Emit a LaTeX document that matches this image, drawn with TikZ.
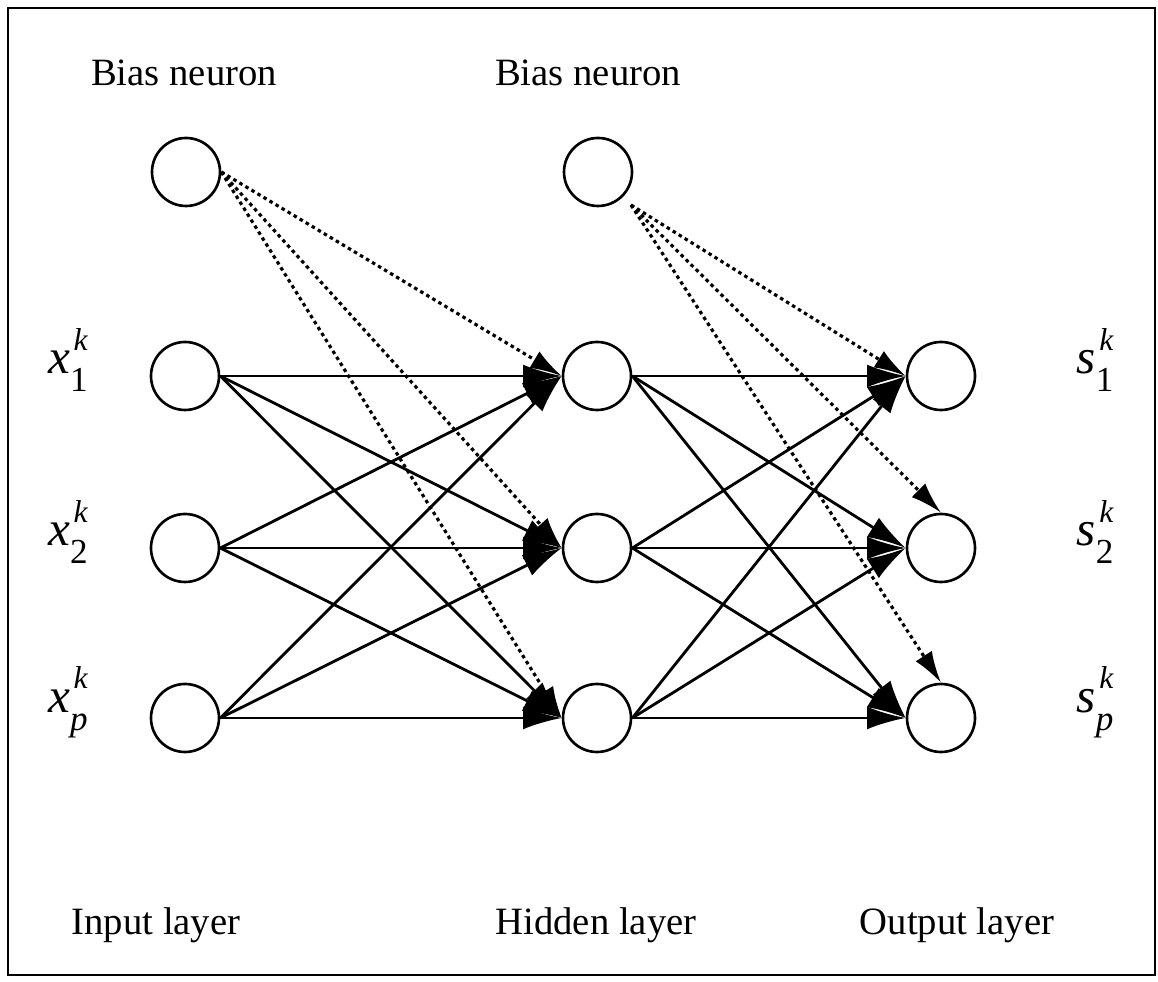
\documentclass[tikz,border=0pt]{standalone}
\usepackage{fontspec}
\setmainfont{Liberation Serif}
\usetikzlibrary{arrows.meta}

\newcommand{\klab}[2]{\textit{#1}\rlap{\hspace{1pt}\raisebox{1.05ex}{\fontsize{9}{9}\selectfont\textit{k}}}\raisebox{-0.8ex}{\fontsize{10}{10}\selectfont #2}}

\tikzset{
	neuron/.style={circle, draw, line width=0.75pt, minimum size=0.68cm, inner sep=0pt},
	txt/.style={font=\fontsize{11}{12}\selectfont, inner sep=0pt},
	var/.style={font=\fontsize{14}{16}\selectfont, inner sep=0pt},
	wgt/.style={line width=0.8pt, -{Latex[length=11pt,width=6.5pt]}},
	bwgt/.style={line width=0.9pt, dash pattern=on 1pt off 1pt, -{Latex[length=9pt,width=5.5pt]}}
}

\begin{document}
\begin{tikzpicture}
	\useasboundingbox (0,0) rectangle (11.58,9.82);
	\draw[line width=0.8pt] (0.08,0.07) rectangle (11.55,9.74);
	
	% bias neurons
	\node[neuron] (bi) at (1.86,8.10) {};
	\node[neuron] (bh) at (5.98,8.10) {};
	\node[txt] (tbi) at (1.84,9.09) {Bias neuron};
	\node[txt] (tbh) at (5.88,9.09) {Bias neuron};
	
	% input layer
	\node[neuron] (i1) at (1.85,6.06) {};
	\node[neuron] (i2) at (1.85,4.34) {};
	\node[neuron] (ip) at (1.85,2.64) {};
	
	% hidden layer
	\node[neuron] (h1) at (5.97,6.06) {};
	\node[neuron] (h2) at (5.97,4.34) {};
	\node[neuron] (h3) at (5.97,2.64) {};
	
	% output layer
	\node[neuron] (o1) at (9.41,6.06) {};
	\node[neuron] (o2) at (9.41,4.34) {};
	\node[neuron] (op) at (9.41,2.64) {};
	
	\node[var] (x1) at (0.68,6.22) {\klab{x}{1}};
	\node[var] (x2) at (0.68,4.50) {\klab{x}{2}};
	\node[var] (xp) at (0.68,2.80) {\klab{x}{\textit{p}}};
	
	\node[var] (s1) at (10.95,6.22) {\klab{s}{1}};
	\node[var] (s2) at (10.95,4.50) {\klab{s}{2}};
	\node[var] (sp) at (10.95,2.80) {\klab{s}{\textit{p}}};
	
	\node[txt] (lin) at (1.56,0.57) {Input layer};
	\node[txt] (lhid) at (5.96,0.57) {Hidden layer};
	\node[txt] (lout) at (9.57,0.57) {Output layer};
	
	% input -> hidden
	\draw[wgt] (i1.east) -- (h1.west);
	\draw[wgt] (i1.east) -- (h2.west);
	\draw[wgt] (i1.east) -- (h3.west);
	\draw[wgt] (i2.east) -- (h1.west);
	\draw[wgt] (i2.east) -- (h2.west);
	\draw[wgt] (i2.east) -- (h3.west);
	\draw[wgt] (ip.east) -- (h1.west);
	\draw[wgt] (ip.east) -- (h2.west);
	\draw[wgt] (ip.east) -- (h3.west);
	
	% hidden -> output
	\draw[wgt] (h1.east) -- (o1.west);
	\draw[wgt] (h1.east) -- (o2.west);
	\draw[wgt] (h1.east) -- (op.west);
	\draw[wgt] (h2.east) -- (o1.west);
	\draw[wgt] (h2.east) -- (o2.west);
	\draw[wgt] (h2.east) -- (op.west);
	\draw[wgt] (h3.east) -- (o1.west);
	\draw[wgt] (h3.east) -- (o2.west);
	\draw[wgt] (h3.east) -- (op.west);
	
	% bias weights
	\coordinate (bhs) at ([shift={(0.08,-0.08)}]bh.-45);
	\draw[bwgt] (bi.east) -- (h1.west);
	\draw[bwgt] (bi.east) -- (h2.west);
	\draw[bwgt] (bi.east) -- (h3.west);
	\draw[bwgt] (bhs) -- (o1.west);
	\draw[bwgt] (bhs) -- (o2.north);
	\draw[bwgt] (bhs) -- (op.north);
\end{tikzpicture}
\end{document}
